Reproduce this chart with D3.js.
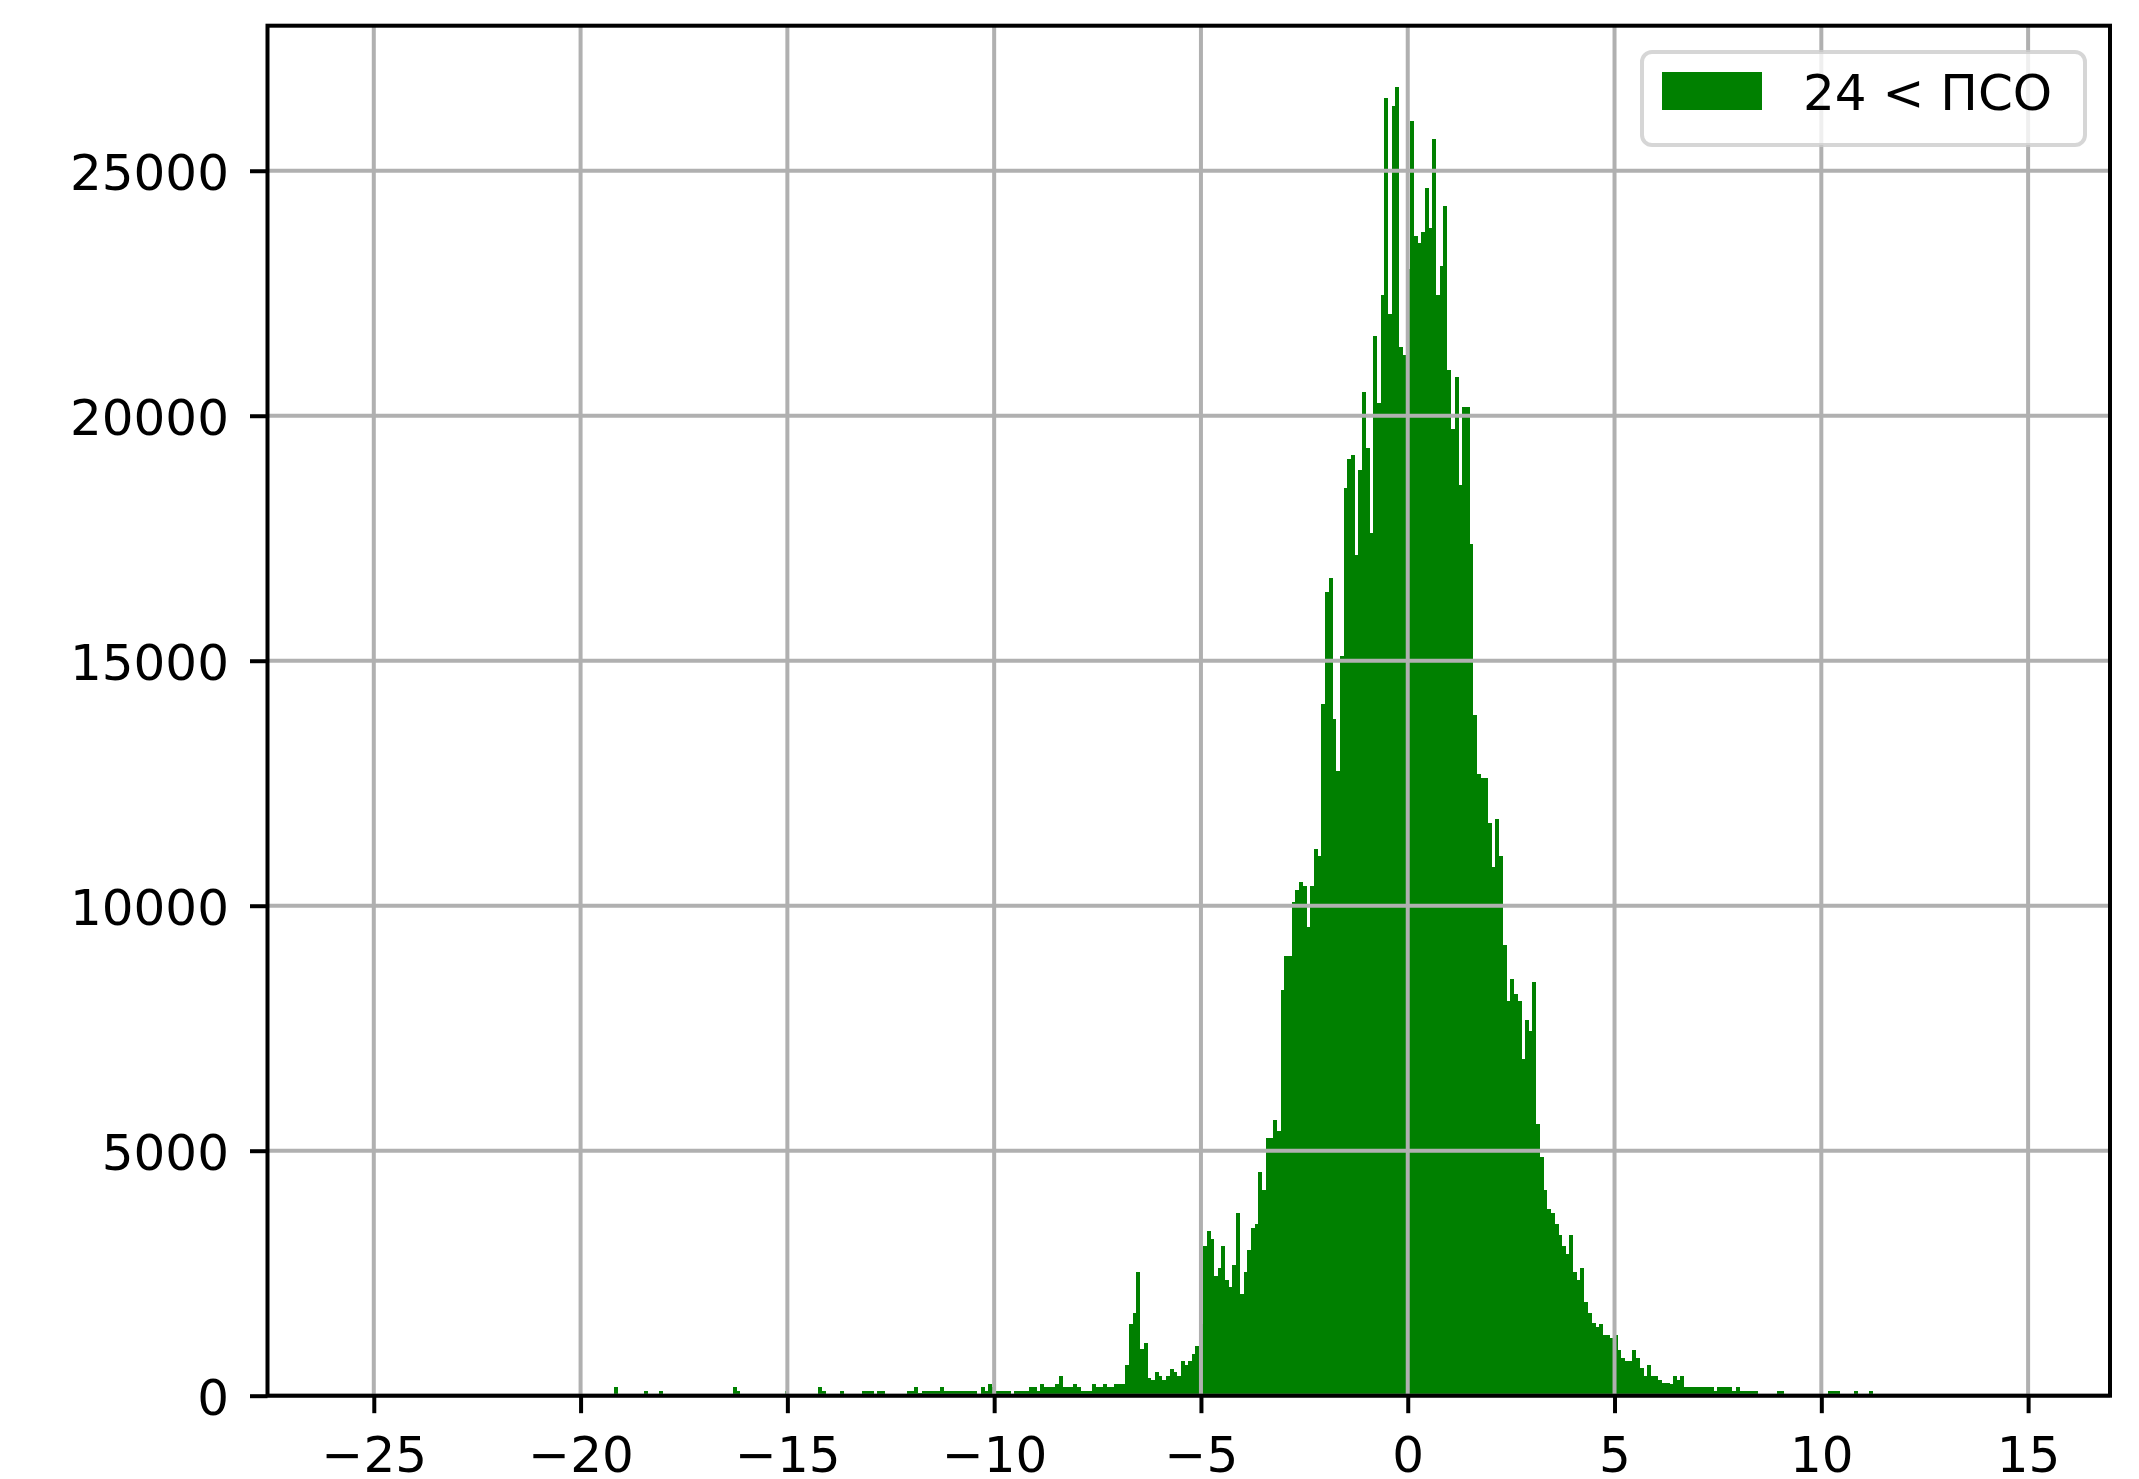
<!DOCTYPE html>
<html>
<head>
<meta charset="utf-8">
<script src="https://cdnjs.cloudflare.com/ajax/libs/d3/7.8.5/d3.min.js"></script>
<style>
  body { margin: 0; background: #fff; }
  text { font-family: "DejaVu Sans", sans-serif; fill: #000; }
</style>
</head>
<body>
<svg id="chart"></svg>
<script>
// histogram bins : left edge of the first bin and the bin width
var binStart = -19.184;
var binWidth = 0.0895;

// counts per bin (left tail / core / right tail)
var leftTail = [
  178, 0, 0, 0, 0, 0, 0, 0, 96, 0, 0, 0, 96,
  0, 0, 0, 0, 0, 0, 0, 0, 0, 0, 0, 0, 0, 0, 0, 0, 0, 0, 0,
  184, 100,
  0, 0, 0, 0, 0, 0, 0, 0, 0, 0, 0, 0,
  100,
  0, 0, 0, 0, 0, 0, 0, 0,
  184, 100,
  0, 0, 0, 0,
  100,
  0, 0, 0, 0, 0,
  100, 100, 100, 0, 100, 100,
  0, 0, 0, 0, 0, 0,
  100, 100, 184, 50,
  100, 100, 100, 100, 100, 184,
  100, 100, 100, 100, 100, 100, 100, 100, 100,
  0, 184, 100, 239, 184, 100,
  100, 100, 100, 0,
  100, 100, 100, 100, 184, 184, 100, 239,
  184, 184, 184, 239, 402, 184, 184, 184,
  239, 184, 100, 100, 100, 239, 184, 184,
  239, 184, 184, 239, 239, 239
];

var core = [
  627, 1463, 1694, 2525, 947, 1069, 360, 320, 490, 402,
  320, 402, 539, 490, 402, 708, 627, 708, 845, 1014,
  1463, 3055, 3361, 3198, 2449, 2600, 3055, 2361, 2225, 2668,
  3723, 2076, 2525, 2974, 3417, 3498, 4560, 4198, 5260, 5260,
  5627, 5409, 8280, 8974, 8974, 10083, 10321, 10485, 10403, 9573,
  10406, 11158, 11015, 14118, 16404, 16689, 13811, 12756, 15097,
  18520, 19118, 19200, 17159, 18894, 20486, 19336, 17614, 21623, 20261,
  22465, 26480, 22084, 26323, 26711, 21404, 21241, 23000, 26011, 23663,
  23533, 23751, 24643, 23833, 25649, 22472, 23057, 24276, 20935, 19736,
  20786, 18594, 20179, 20179, 17383, 13893, 12689, 12607, 12607, 11695,
  10797, 11764, 11015, 9205, 8062, 8505, 8199, 8062, 6866, 7668,
  7450, 8443, 5545
];

var rightTail = [
  4878, 4198, 3810, 3723, 3498, 3280, 3062, 2898, 3280, 2531,
  2368, 2606, 1912, 1694, 1478, 1396, 1463, 1245, 1245, 1171,
  1245, 933, 776, 714, 714, 933, 763, 559, 402, 627,
  402, 402, 320, 253, 253, 233, 402, 320, 402,
  171, 171, 171, 171, 171, 171, 171, 171,
  96, 171, 171, 171, 171, 96, 171,
  96, 96, 96, 96, 96,
  0, 0, 0, 0, 0,
  96, 96,
  0, 0, 0, 0, 0, 0, 0, 0, 0, 0, 0, 0,
  96, 96, 96,
  0, 0, 0, 0,
  96,
  0, 0, 0,
  96
];

var xTicks = [-25, -20, -15, -10, -5, 0, 5, 10, 15];
var yTicks = [0, 5000, 10000, 15000, 20000, 25000];
var xLimits = [-27.57, 16.98];
var yLimits = [0, 27960];
var legendLabel = "24 < ПСО";

var width = 2139, height = 1479;
// plot area (window.top is taken, so no bare "top" here)
var plotLeft = 267.5, plotRight = 2110, plotTop = 25.7, plotBottom = 1395.7;
var barColor = "#008000";
var gridColor = "#b0b0b0";

var counts = leftTail.concat(core, rightTail);
var bins = counts.map(function(c, i) {
  return { x0: binStart + i * binWidth, x1: binStart + (i + 1) * binWidth, n: c };
});

var x = d3.scaleLinear().domain(xLimits).range([plotLeft, plotRight]);
var y = d3.scaleLinear().domain(yLimits).range([plotBottom, plotTop]);

var svg = d3.select("#chart")
    .attr("width", width)
    .attr("height", height);

svg.append("rect")
    .attr("width", width)
    .attr("height", height)
    .attr("fill", "#fff");

// bars
svg.append("g")
    .selectAll("rect")
    .data(bins.filter(function(d) { return d.n > 0; }))
    .enter()
    .append("rect")
    .attr("x", function(d) { return x(d.x0); })
    .attr("width", function(d) { return x(d.x1) - x(d.x0) + 0.3; })
    .attr("y", function(d) { return y(d.n); })
    .attr("height", function(d) { return y(0) - y(d.n); })
    .attr("fill", barColor)
    .attr("shape-rendering", "crispEdges");

// grid sits above the bars like in matplotlib
var grid = svg.append("g")
    .attr("stroke", gridColor)
    .attr("stroke-width", 4);

grid.selectAll(".gx")
    .data(xTicks)
    .enter()
    .append("line")
    .attr("x1", function(d) { return x(d); })
    .attr("x2", function(d) { return x(d); })
    .attr("y1", plotTop)
    .attr("y2", plotBottom);

grid.selectAll(".gy")
    .data(yTicks)
    .enter()
    .append("line")
    .attr("x1", plotLeft)
    .attr("x2", plotRight)
    .attr("y1", function(d) { return y(d); })
    .attr("y2", function(d) { return y(d); });

// axes
var fmtX = function(d) { return d < 0 ? "\u2212" + Math.abs(d) : String(d); };

var xAxis = d3.axisBottom(x)
    .tickValues(xTicks)
    .tickFormat(fmtX)
    .tickSizeInner(17.5)
    .tickSizeOuter(0)
    .tickPadding(17.5);

var yAxis = d3.axisLeft(y)
    .tickValues(yTicks)
    .tickFormat(function(d) { return String(d); })
    .tickSizeInner(17.5)
    .tickSizeOuter(0)
    .tickPadding(21);

var gx = svg.append("g")
    .attr("transform", "translate(0," + plotBottom + ")")
    .call(xAxis);
gx.select(".domain").remove();
gx.selectAll(".tick line").attr("stroke", "#000").attr("stroke-width", 4);
gx.selectAll(".tick text")
    .attr("font-size", 50)
    .attr("font-family", "DejaVu Sans")
    .attr("dy", null)
    .attr("y", 76);

var gy = svg.append("g")
    .attr("transform", "translate(" + plotLeft + ",0)")
    .call(yAxis);
gy.select(".domain").remove();
gy.selectAll(".tick line").attr("stroke", "#000").attr("stroke-width", 4);
gy.selectAll(".tick text")
    .attr("font-size", 50)
    .attr("font-family", "DejaVu Sans")
    .attr("dy", "0.38em");

// frame
svg.append("rect")
    .attr("x", plotLeft)
    .attr("y", plotTop)
    .attr("width", plotRight - plotLeft)
    .attr("height", plotBottom - plotTop)
    .attr("fill", "none")
    .attr("stroke", "#000")
    .attr("stroke-width", 4);

// legend
var legend = svg.append("g");

legend.append("rect")
    .attr("x", 1642)
    .attr("y", 52)
    .attr("width", 2085 - 1642)
    .attr("height", 93)
    .attr("rx", 10)
    .attr("fill", "#fff")
    .attr("fill-opacity", 0.8)
    .attr("stroke", "#cccccc")
    .attr("stroke-opacity", 0.8)
    .attr("stroke-width", 4);

legend.append("rect")
    .attr("x", 1662)
    .attr("y", 72)
    .attr("width", 100)
    .attr("height", 38)
    .attr("fill", barColor);

legend.append("text")
    .attr("x", 1803)
    .attr("y", 110)
    .attr("font-size", 50)
    .text(legendLabel);
</script>
</body>
</html>
